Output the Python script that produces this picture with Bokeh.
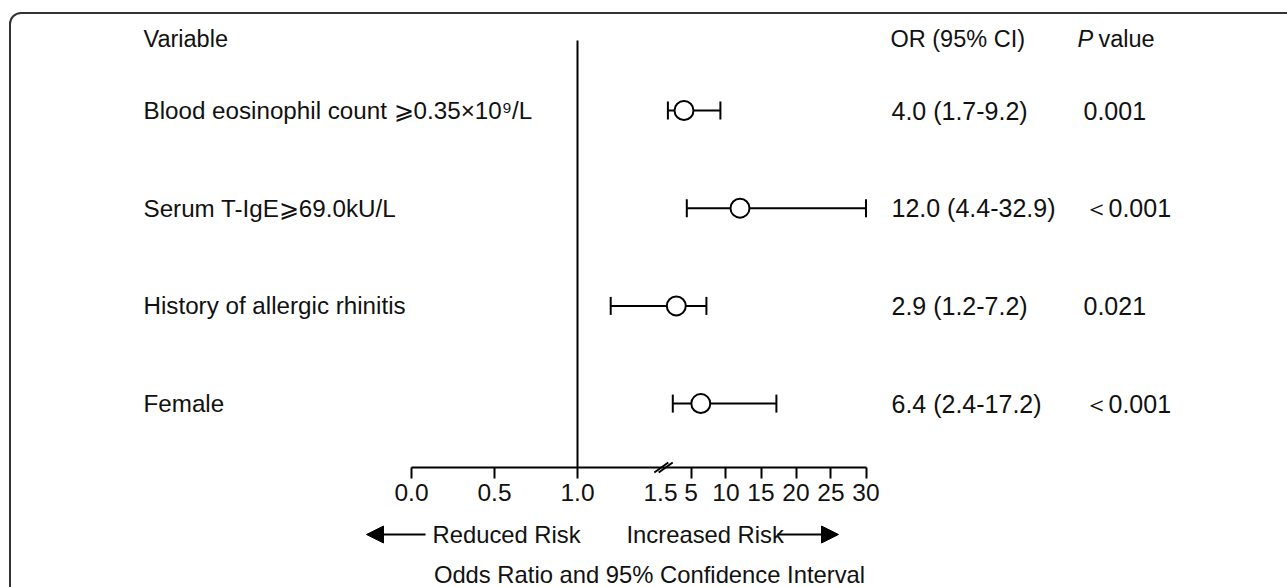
from bokeh.plotting import figure
from bokeh.models import (Range1d, LinearAxis, FixedTicker, Whisker, TeeHead, Arrow,
                          NormalHead, BoxAnnotation, ColumnDataSource)
from bokeh.embed import file_html
from bokeh.resources import INLINE
from bokeh.core.properties import value

# ---------------- data ----------------
variables = ["Blood eosinophil count \u2a7e0.35\u00d710\u2079/L",
             "Serum T-IgE\u2a7e69.0kU/L",
             "History of allergic rhinitis",
             "Female"]
odds_ratio = [4.0, 12.0, 2.9, 6.4]
ci_lower = [1.7, 4.4, 1.2, 2.4]
ci_upper = [9.2, 32.9, 7.2, 17.2]
or_labels = ["4.0 (1.7-9.2)", "12.0 (4.4-32.9)", "2.9 (1.2-7.2)", "6.4 (2.4-17.2)"]
p_labels = ["0.001", "\uff1c0.001", "0.021", "\uff1c0.001"]
tick_values = [0.0, 0.5, 1.0, 5, 10, 15, 20, 25, 30]
tick_labels = ["0.0", "0.5", "1.0", "5", "10", "15", "20", "25", "30"]
break_value = 1.5
break_label = "1.5"
axis_max = 30
rows = [0, 1, 2, 3]

# ---------------- broken-axis scale ----------------
GAP = 6 / 166.0
RIGHT_SCALE = 7 / 166.0


def axis_pos(v):
    if v <= break_value:
        return float(v)
    return break_value + GAP + (v - break_value) * RIGHT_SCALE


def px(xs):
    return (xs - 411) / 166.0


def py(ys):
    return (ys - 110) / 97.7


FONT_NAME = "Liberation Sans"
FONT = value(FONT_NAME)
FS_HEAD = "23.5px"
FS_LAB = "24.2px"
FS_NUM = "25px"
FS_TICK = "24.5px"
FS_RISK = "23.8px"
COL = "#111111"

W, H = 1287, 587
p = figure(width=W, height=H, output_backend="svg", toolbar_location=None,
           x_range=Range1d(px(0), px(W)), y_range=Range1d(py(H), py(0)),
           x_axis_type=None, y_axis_type=None, min_border=0,
           outline_line_color=None, background_fill_color="white")

p.add_layout(BoxAnnotation(left=px(9.5), right=px(1400), top=py(12.5), bottom=py(700),
                           fill_alpha=0, line_color="#333333", line_alpha=1.0,
                           line_width=2, border_radius=11))

src = ColumnDataSource(dict(
    y=rows,
    var=variables,
    orv=[axis_pos(v) for v in odds_ratio],
    lo=[axis_pos(v) for v in ci_lower],
    hi=[axis_pos(min(v, axis_max)) for v in ci_upper],
    orl=or_labels,
    pl=p_labels,
))

ax_y = py(467)
p.segment(x0=[axis_pos(1.0)], y0=[py(40)], x1=[axis_pos(1.0)], y1=[ax_y],
          line_color="black", line_width=2)

wh = Whisker(source=src, base="y", lower="lo", upper="hi", dimension="width",
             line_color="black", line_width=2, level="underlay",
             lower_head=TeeHead(size=18, line_width=2, line_color="black"),
             upper_head=TeeHead(size=18, line_width=2, line_color="black"))
p.add_layout(wh)
p.scatter("orv", "y", source=src, marker="circle", size=19, fill_color="white",
          line_color="black", line_width=2)

ticks_d = [round(axis_pos(t), 6) for t in tick_values]
ax = LinearAxis(fixed_location=ax_y, bounds=(axis_pos(0), axis_pos(axis_max)),
                ticker=FixedTicker(ticks=ticks_d, minor_ticks=[]),
                major_label_overrides={t: l for t, l in zip(ticks_d, tick_labels)},
                axis_line_width=2, axis_line_color="black",
                major_tick_line_width=2, major_tick_line_color="black",
                major_tick_in=0, major_tick_out=11, minor_tick_out=0, minor_tick_in=0,
                major_label_standoff=5, major_label_text_font=FONT_NAME,
                major_label_text_font_size=FS_TICK, major_label_text_color=COL)
p.add_layout(ax, "below")

bd = round(axis_pos(break_value), 6)
ax2 = LinearAxis(fixed_location=ax_y,
                 ticker=FixedTicker(ticks=[bd], minor_ticks=[]),
                 major_label_overrides={bd: break_label},
                 axis_line_color=None, major_tick_line_color=None,
                 major_tick_in=0, major_tick_out=11, minor_tick_out=0, minor_tick_in=0,
                 major_label_standoff=5, major_label_text_font=FONT_NAME,
                 major_label_text_font_size=FS_TICK, major_label_text_color=COL)
p.add_layout(ax2, "below")

bc = break_value + GAP / 2
dx, dy, off = 7 / 166.0, 5 / 97.7, 2.2 / 166.0
p.segment(x0=[bc - dx - off, bc - dx + off], y0=[ax_y + dy, ax_y + dy],
          x1=[bc + dx - off, bc + dx + off], y1=[ax_y - dy, ax_y - dy],
          line_color="black", line_width=2)


def tkw(fs):
    return dict(text_font=FONT, text_font_size=fs, text_color=COL, text_baseline="middle")


p.text(x=px(143), y="y", text="var", source=src, text_align="left", **tkw(FS_LAB))
p.text(x=px(891), y="y", text="orl", source=src, text_align="left", **tkw(FS_NUM))
p.text(x=px(1083), y="y", text="pl", source=src, text_align="left", **tkw(FS_NUM))

p.text(x=[px(143)], y=[py(38)], text=["Variable"], text_align="left", **tkw(FS_HEAD))
p.text(x=[px(890)], y=[py(38)], text=["OR (95% CI)"], text_align="left", **tkw(FS_HEAD))
p.text(x=[px(1077)], y=[py(38)], text=["P"], text_align="left",
       text_font_style="italic", **tkw(FS_HEAD))
p.text(x=[px(1098)], y=[py(38)], text=["value"], text_align="left", **tkw(FS_HEAD))

arrow_y = py(534)
p.add_layout(Arrow(x_start=px(425), y_start=arrow_y, x_end=px(366), y_end=arrow_y,
                   line_width=2, line_color="black",
                   end=NormalHead(size=17, fill_color="black", line_color="black")))
p.add_layout(Arrow(x_start=px(777), y_start=arrow_y, x_end=px(838), y_end=arrow_y,
                   line_width=2, line_color="black",
                   end=NormalHead(size=17, fill_color="black", line_color="black")))
p.text(x=[px(432)], y=[arrow_y], text=["Reduced Risk"], text_align="left", **tkw(FS_RISK))
p.text(x=[px(626)], y=[arrow_y], text=["Increased Risk"], text_align="left", **tkw(FS_RISK))
p.text(x=[px(649)], y=[py(574)], text=["Odds Ratio and 95% Confidence Interval"],
       text_align="center", **tkw(FS_RISK))

open("out.html", "w").write(file_html(p, INLINE))
